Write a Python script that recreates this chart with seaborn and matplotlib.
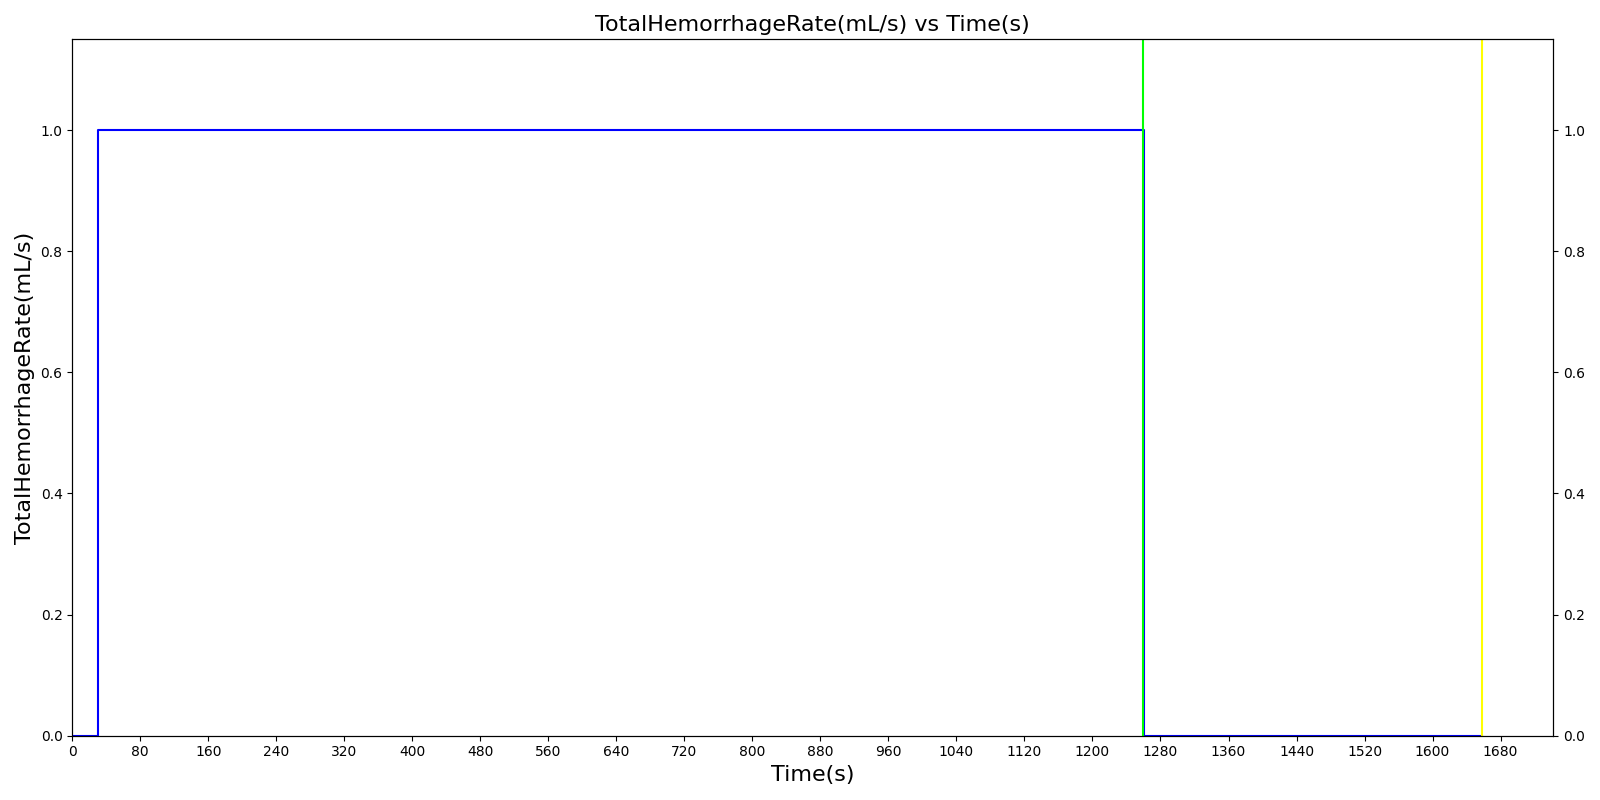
import numpy as np
import pandas as pd
import matplotlib
matplotlib.use('Agg')
import matplotlib.pyplot as plt
import seaborn as sns

# step data
time_s = [0, 30, 1261, 1658]
rate = [0, 1, 0, 0]
green_t = 1260
yellow_t = 1658

df = pd.DataFrame({'Time(s)': time_s, 'TotalHemorrhageRate(mL/s)': rate})

fig, ax = plt.subplots(figsize=(16, 8), dpi=100)
sns.lineplot(data=df, x='Time(s)', y='TotalHemorrhageRate(mL/s)', ax=ax,
             color='blue', drawstyle='steps-post', linewidth=1.5)
ax.axvline(green_t, color='lime', linewidth=1.5)
ax.axvline(yellow_t, color='yellow', linewidth=1.5)

ax.set_xlim(0, 1742)
ax.set_ylim(0, 1.15)
ax.set_xticks(np.arange(0, 1681, 80))
ax.set_yticks(np.arange(0, 1.01, 0.2))
ax.set_xlabel('Time(s)', fontsize=16)
ax.set_ylabel('TotalHemorrhageRate(mL/s)', fontsize=16)
ax.set_title('TotalHemorrhageRate(mL/s) vs Time(s)', fontsize=16)

# right axis mirrors the left one
ax2 = ax.twinx()
ax2.set_ylim(ax.get_ylim())
ax2.set_yticks(np.arange(0, 1.01, 0.2))

fig.tight_layout()
fig.savefig('out.png')
